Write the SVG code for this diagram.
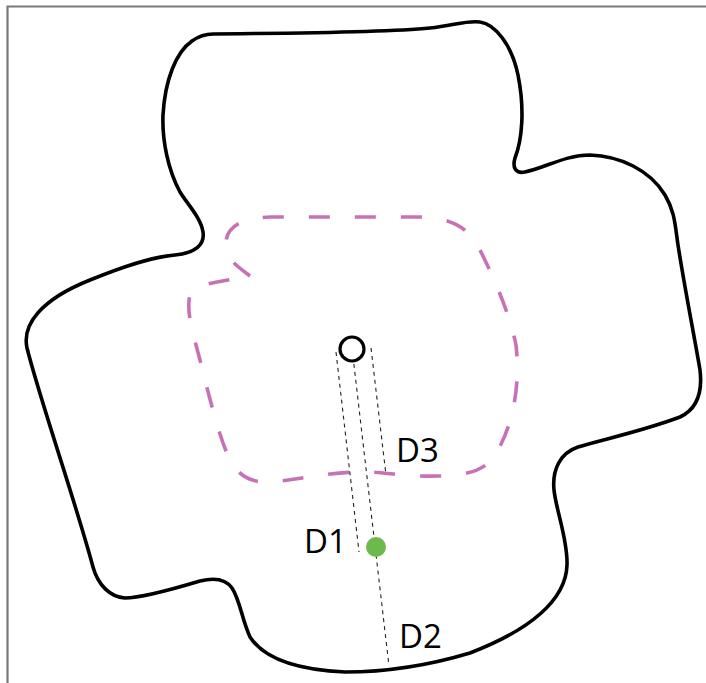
<svg xmlns="http://www.w3.org/2000/svg" width="706" height="683" viewBox="0 0 706 683">
<style>
.frame{fill:none;stroke:#7a7a7a;stroke-width:2.2}
.outline{fill:none;stroke:#000;stroke-width:3.6;stroke-linejoin:round}
.zone{fill:none;stroke:#c872b6;stroke-width:3.6;stroke-dasharray:21 25;stroke-linecap:butt}
.dl{fill:none;stroke:#222;stroke-width:1.1;stroke-dasharray:4 4}
.lbl{font-family:"Open Sans","Noto Sans","Liberation Sans",sans-serif;font-size:33px;fill:#000}
</style>
<rect width="706" height="683" fill="#fff"/>
<path class="frame" d="M7.5 683 V6.5 H706"/>
<path id="outline" class="outline" d="M213 34 C290 33,380 33,430 28 C455 25,468 20,480 22 C495 24,512 45,518 75 C525 110,522 140,515 158 C512 168,516 174,525 172 C545 168,565 155,590 155 C620 156,650 170,665 195 C675 212,675 225,678 245 C685 290,695 340,700 370 C703 395,695 410,680 417 C640 432,600 440,578 447 C560 453,552 470,554 490 C556 510,568 540,567 565 C566 600,530 630,470 653 C420 668,380 672,345 672 C300 670,265 660,250 637 C242 620,240 600,232 588 C225 578,212 578,200 581 C170 590,140 598,125 598 C110 597,98 585,93 567 C75 500,40 400,27 348 C22 325,40 300,90 280 C120 268,150 257,175 255 C195 253,205 245,203 232 C201 218,188 205,180 192 C168 170,162 140,163 115 C165 80,176 52,192 41 C199 36,206 34,213 34 Z"/>
<path id="zone" class="zone" d="M250 276 C240 268,228 262,226 245 C225 228,240 218,270 217 L420 217 C455 218,470 230,480 250 C495 280,510 315,516 345 C521 390,511 430,495 455 C485 470,470 475,440 476 C410 477,390 473,370 472 C330 471,300 480,270 482 C250 483,238 475,230 460 C220 440,210 400,200 360 C192 330,186 310,190 295 C195 283,220 282,250 276"/>
<g id="connectors">
<line class="dl" x1="336" y1="352" x2="359" y2="552"/>
<line class="dl" x1="352" y1="348" x2="389" y2="666"/>
<line class="dl" x1="371" y1="348" x2="386" y2="475"/>
</g>
<g id="source"><circle cx="352" cy="349" r="12" fill="#fff" stroke="#000" stroke-width="3.2"/></g>
<g id="point"><circle cx="376" cy="547" r="10" fill="#6cba4c"/></g>
<g id="labels">
<text class="lbl" x="396" y="462">D3</text>
<text class="lbl" x="304" y="553">D1</text>
<text class="lbl" x="399" y="648">D2</text>
</g>
</svg>
